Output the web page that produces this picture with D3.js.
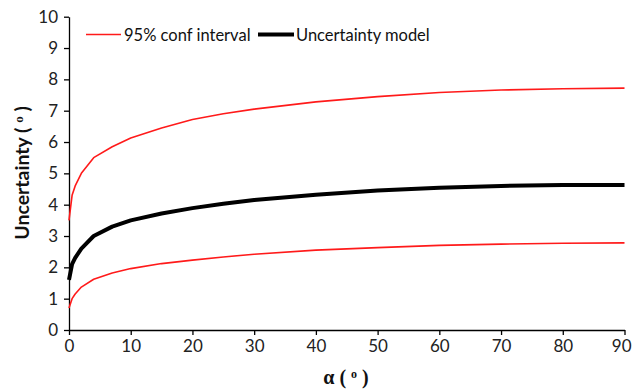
<!DOCTYPE html>
<html>
<head>
<meta charset="utf-8">
<script src="https://cdn.jsdelivr.net/npm/d3@7"></script>
<style>
  html, body { margin: 0; padding: 0; background: #fff; }
  svg { display: block; }
  .tick text { font-family: Lato, "Open Sans", sans-serif; font-size: 17px; fill: #222; }
</style>
</head>
<body>
<svg id="chart" width="632" height="389"></svg>
<script>
// Angle of incidence α (degrees)
const alpha = [0, 0.5, 1, 2, 4, 7, 10, 15, 20, 25, 30, 40, 50, 60, 70, 80, 90];
// Uncertainty model (degrees)
const model = [1.6, 2.1, 2.3, 2.6, 3.0, 3.3, 3.5, 3.72, 3.89, 4.03, 4.15, 4.32, 4.45, 4.54, 4.6, 4.63, 4.63];
// 95% confidence interval bounds
const upper = [3.5, 4.3, 4.6, 5.0, 5.5, 5.85, 6.13, 6.45, 6.72, 6.9, 7.05, 7.28, 7.45, 7.58, 7.66, 7.7, 7.72];
const lower = [0.7, 1.0, 1.15, 1.37, 1.62, 1.82, 1.96, 2.12, 2.23, 2.33, 2.42, 2.55, 2.63, 2.7, 2.74, 2.77, 2.78];

const xTicks = [0, 10, 20, 30, 40, 50, 60, 70, 80, 90];
const yTicks = [0, 1, 2, 3, 4, 5, 6, 7, 8, 9, 10];

const svg = d3.select("#chart");
const x = d3.scaleLinear().domain([0, 90]).range([69, 624.5]);
const y = d3.scaleLinear().domain([0, 10]).range([330, 16.7]);

// axes
const xAxis = svg.append("g").attr("transform", `translate(0,${y(0)})`)
  .call(d3.axisBottom(x).tickValues(xTicks).tickSize(5).tickPadding(5).tickSizeOuter(0));
const yAxis = svg.append("g").attr("transform", `translate(${x(0)},0)`)
  .call(d3.axisLeft(y).tickValues(yTicks).tickSize(5).tickPadding(6).tickSizeOuter(0));
[xAxis, yAxis].forEach(g => {
  g.select(".domain").attr("stroke", "#000").attr("stroke-width", 1.3);
  g.selectAll(".tick line").attr("stroke", "#000").attr("stroke-width", 1.3);
});
// keep the last x label inside the frame
xAxis.selectAll(".tick text").filter(d => d === 90).attr("text-anchor", "end").attr("dx", 6.5);

// curves
const line = vals => d3.line().x((d, i) => x(alpha[i])).y(d => y(d))(vals);
svg.append("path").attr("d", line(upper)).attr("fill", "none").attr("stroke", "#ff1a1a").attr("stroke-width", 1.6)
  .attr("stroke-linejoin", "round");
svg.append("path").attr("d", line(lower)).attr("fill", "none").attr("stroke", "#ff1a1a").attr("stroke-width", 1.6)
  .attr("stroke-linejoin", "round");
svg.append("path").attr("d", line(model)).attr("fill", "none").attr("stroke", "#000").attr("stroke-width", 4)
  .attr("stroke-linejoin", "round");

// legend
const legend = svg.append("g").attr("font-family", "Lato, 'Open Sans', sans-serif").attr("font-size", 16.5).attr("fill", "#111");
legend.append("line").attr("x1", 86).attr("x2", 121).attr("y1", 34.5).attr("y2", 34.5)
  .attr("stroke", "#ff1a1a").attr("stroke-width", 1.6);
legend.append("text").attr("x", 124).attr("y", 40.5).text("95% conf interval");
legend.append("line").attr("x1", 258).attr("x2", 294).attr("y1", 34.5).attr("y2", 34.5)
  .attr("stroke", "#000").attr("stroke-width", 4);
legend.append("text").attr("x", 296).attr("y", 40.5).text("Uncertainty model");

// axis titles
const yTitle = svg.append("text")
  .attr("transform", `translate(29,173) rotate(-90)`)
  .attr("text-anchor", "middle")
  .attr("font-family", "Lato, 'Open Sans', sans-serif").attr("font-weight", "bold").attr("font-size", 19.5).attr("fill", "#111");
yTitle.append("tspan").text("Uncertainty ( ");
yTitle.append("tspan").attr("font-family", "'Liberation Serif', serif").attr("font-size", 13).attr("dy", -6).text("o");
yTitle.append("tspan").attr("dy", 6).text(" )");

const xTitle = svg.append("text")
  .attr("x", 346).attr("y", 384)
  .attr("text-anchor", "middle")
  .attr("font-family", "'Liberation Serif', serif").attr("font-weight", "bold").attr("font-size", 20).attr("fill", "#111");
xTitle.append("tspan").text("α ( ");
xTitle.append("tspan").attr("font-size", 12).attr("dy", -6).text("o");
xTitle.append("tspan").attr("dy", 6).text(" )");
</script>
</body>
</html>
